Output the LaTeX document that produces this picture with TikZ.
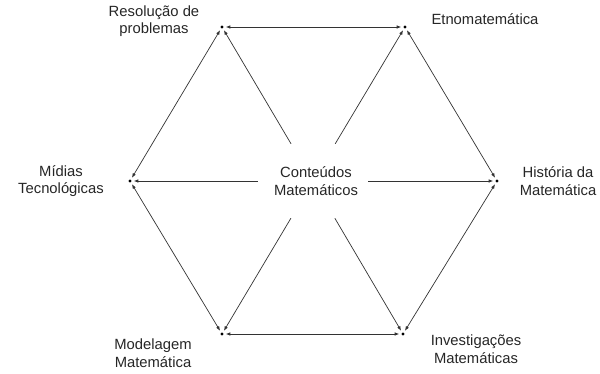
\documentclass[tikz,border=0pt]{standalone}
\usepackage{fontspec}
\setmainfont{Liberation Sans}
\usetikzlibrary{arrows.meta}
\begin{document}
\begin{tikzpicture}[x=1pt,y=-1pt,
  vdot/.style={circle,fill=black,inner sep=0pt,minimum size=3.4pt},
  lbl/.style={align=center,inner sep=0pt,text=black!85,font=\fontsize{14.8}{17.5}\selectfont},
  conn/.style={draw=black!80,line width=0.7pt,shorten >=1.8pt,shorten <=1.8pt},
  tip/.style={-{Latex[length=4.6pt,width=3.5pt]}},
  bitip/.style={{Latex[length=4.6pt,width=3.5pt]}-{Latex[length=4.6pt,width=3.5pt]}}]
\useasboundingbox (0,0) rectangle (600,374);
% vertices
\node[vdot] (tl) at (222,27) {};
\node[vdot] (tr) at (405,27) {};
\node[vdot] (l) at (130,181) {};
\node[vdot] (r) at (497,181) {};
\node[vdot] (bl) at (222,334) {};
\node[vdot] (br) at (403,334) {};
% center
\node[minimum width=110pt,minimum height=74pt,inner sep=0pt] (c) at (313,181) {};
\node[lbl] (ct) at (316,181) {Conteúdos\\Matemáticos};
% labels
\node[lbl] (t1) at (154,21) {Resolução de\\problemas};
\node[lbl] (t2) at (485,19) {Etnomatemática};
\node[lbl] (t3) at (61,181) {Mídias\\Tecnológicas};
\node[lbl] (t4) at (558,181) {História da\\Matemática};
\node[lbl] (t5) at (153,353) {Modelagem\\Matemática};
\node[lbl] (t6) at (476,349) {Investigações\\Matemáticas};
% hexagon edges
\draw[conn,bitip] (tl) -- (tr);
\draw[conn,bitip] (tr) -- (r);
\draw[conn,bitip] (r) -- (br);
\draw[conn,bitip] (br) -- (bl);
\draw[conn,bitip] (bl) -- (l);
\draw[conn,bitip] (l) -- (tl);
% radial
\draw[conn,tip,shorten <=0pt] (c) -- (tl);
\draw[conn,tip,shorten <=0pt] (c) -- (tr);
\draw[conn,tip,shorten <=0pt] (c) -- (l);
\draw[conn,tip,shorten <=0pt] (c) -- (r);
\draw[conn,tip,shorten <=0pt] (c) -- (bl);
\draw[conn,tip,shorten <=0pt] (c) -- (br);
\end{tikzpicture}
\end{document}
